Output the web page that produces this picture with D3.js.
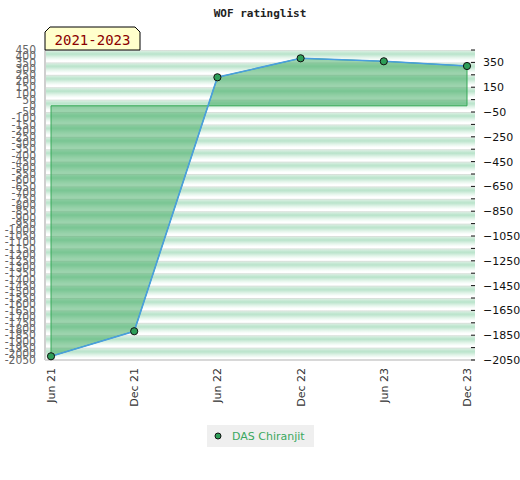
<!DOCTYPE html>
<html>
<head>
<meta charset="utf-8">
<script src="https://cdn.jsdelivr.net/npm/d3@7"></script>
<style>
  body { margin: 0; background: #fff; }
  svg { display: block; }
</style>
</head>
<body>
<script>
// chart data
var periods = ['Jun 21', 'Dec 21', 'Jun 22', 'Dec 22', 'Jun 23', 'Dec 23'];
var ratings = [-2020, -1818, 230, 383, 359, 321];
var seriesName = 'DAS Chiranjit';
var leftTicks = d3.range(450, -2051, -50);
var rightTicks = [350, 150, -50, -250, -450, -650, -850, -1050, -1250, -1450, -1650, -1850, -2050];

var width = 520, height = 480;
var plot = {left: 45, right: 475, top: 50, bottom: 360};

var svg = d3.select('body').append('svg')
    .attr('width', width).attr('height', height);

var x = d3.scalePoint().domain(periods).range([51, 467]);
var y = d3.scaleLinear().domain([-2050, 450]).range([plot.bottom, plot.top]);

var band = y(0) - y(100);

// striped background
var defs = svg.append('defs');
var grad = defs.append('linearGradient')
    .attr('id', 'stripe').attr('x1', 0).attr('y1', 0).attr('x2', 0).attr('y2', 1);
[[0, '#dcd8d8'], [0.1, '#d6eee0'], [0.32, '#b8e3ca'], [0.62, '#e4f5eb'], [0.85, '#ffffff'], [1, '#ffffff']]
    .forEach(function(s) {
        grad.append('stop').attr('offset', s[0]).attr('stop-color', s[1]);
    });
var pat = defs.append('pattern')
    .attr('id', 'bands')
    .attr('patternUnits', 'userSpaceOnUse')
    .attr('x', 0).attr('y', plot.top)
    .attr('width', width).attr('height', band);
pat.append('rect').attr('width', width).attr('height', band).attr('fill', 'url(#stripe)');

svg.append('rect')
    .attr('x', plot.left).attr('y', plot.top)
    .attr('width', plot.right - plot.left).attr('height', plot.bottom - plot.top)
    .attr('fill', 'url(#bands)');

// frame lines
svg.append('line')
    .attr('x1', plot.left).attr('x2', plot.left)
    .attr('y1', plot.top).attr('y2', plot.bottom)
    .attr('stroke', '#cfcfcf').attr('stroke-width', 2);
svg.append('line')
    .attr('x1', plot.left).attr('x2', plot.right)
    .attr('y1', plot.bottom).attr('y2', plot.bottom)
    .attr('stroke', '#d8d8d8').attr('stroke-width', 2);

// area between line and zero
var areaPts = [[x(periods[0]), y(0)]]
    .concat(periods.map(function(p, i) { return [x(p), y(ratings[i])]; }))
    .concat([[x(periods[periods.length - 1]), y(0)]]);
svg.append('path')
    .attr('d', d3.line()(areaPts) + 'Z')
    .attr('fill', '#3aa75c').attr('fill-opacity', 0.5)
    .attr('stroke', '#35a856').attr('stroke-width', 1);

// the rating line
svg.append('path')
    .datum(ratings)
    .attr('d', d3.line()
        .x(function(d, i) { return x(periods[i]); })
        .y(function(d) { return y(d); }))
    .attr('fill', 'none')
    .attr('stroke', '#4a9ee0').attr('stroke-width', 1.6);

svg.selectAll('circle.pt')
    .data(ratings)
    .enter().append('circle')
    .attr('class', 'pt')
    .attr('cx', function(d, i) { return x(periods[i]); })
    .attr('cy', function(d) { return y(d); })
    .attr('r', 3.6)
    .attr('fill', '#2e9e58').attr('stroke', '#111').attr('stroke-width', 1);

// left axis, labels every 50 (they pile up like the original)
svg.append('g')
    .selectAll('text')
    .data(leftTicks)
    .enter().append('text')
    .attr('x', 36)
    .attr('y', function(d) { return y(d); })
    .attr('dy', '0.35em')
    .attr('text-anchor', 'end')
    .attr('font-family', 'DejaVu Sans Condensed, DejaVu Sans')
    .attr('font-size', 12)
    .attr('fill', '#666')
    .text(function(d) { return d; });

// right axis
var yRight = d3.axisRight(y)
    .tickValues(rightTicks)
    .tickFormat(d3.format('d'))
    .tickSize(0)
    .tickPadding(8);
var gr = svg.append('g')
    .attr('transform', 'translate(' + plot.right + ',0)')
    .call(yRight);
gr.select('.domain').remove();
gr.selectAll('text')
    .attr('font-family', 'DejaVu Sans').attr('font-size', 11).attr('fill', '#111');
gr.selectAll('line.tk')
    .data(d3.range(-2050, 451, 100))
    .enter().append('line')
    .attr('class', 'tk')
    .attr('x1', -4).attr('x2', 0)
    .attr('y1', function(d) { return y(d); })
    .attr('y2', function(d) { return y(d); })
    .attr('stroke', '#111');

// x axis labels, rotated
svg.append('g')
    .selectAll('text')
    .data(periods)
    .enter().append('text')
    .attr('transform', function(d) { return 'translate(' + (x(d) + 4) + ',368) rotate(-90)'; })
    .attr('text-anchor', 'end')
    .attr('font-family', 'DejaVu Sans')
    .attr('font-size', 11)
    .attr('fill', '#333')
    .text(function(d) { return d; });

// title
svg.append('text')
    .attr('x', 260).attr('y', 17)
    .attr('text-anchor', 'middle')
    .attr('font-family', 'DejaVu Sans Mono')
    .attr('font-weight', 'bold')
    .attr('font-size', 11)
    .attr('fill', '#222')
    .text('WOF ratinglist');

// tab label
var tx0 = 45, tx1 = 140, ty0 = 27, ty1 = 50, c = 5;
svg.append('path')
    .attr('d', 'M' + tx0 + ',' + ty1 + 'L' + tx0 + ',' + (ty0 + c) + 'L' + (tx0 + c) + ',' + ty0 +
        'L' + (tx1 - c) + ',' + ty0 + 'L' + tx1 + ',' + (ty0 + c) + 'L' + tx1 + ',' + ty1 + 'Z')
    .attr('fill', '#ffffcc').attr('stroke', '#000').attr('stroke-width', 1);
svg.append('text')
    .attr('x', (tx0 + tx1) / 2).attr('y', 45)
    .attr('text-anchor', 'middle')
    .attr('font-family', 'DejaVu Sans Mono')
    .attr('font-size', 14)
    .attr('fill', '#8b0000')
    .text('2021-2023');

// legend
var lg = svg.append('g').attr('transform', 'translate(207,425)');
lg.append('rect').attr('width', 107).attr('height', 22).attr('fill', '#efefef');
lg.append('circle').attr('cx', 11).attr('cy', 11).attr('r', 3)
    .attr('fill', '#2e9e58').attr('stroke', '#111');
lg.append('text')
    .attr('x', 25).attr('y', 15)
    .attr('font-family', 'DejaVu Sans').attr('font-size', 11)
    .attr('fill', '#3aa860')
    .text(seriesName);
</script>
</body>
</html>
